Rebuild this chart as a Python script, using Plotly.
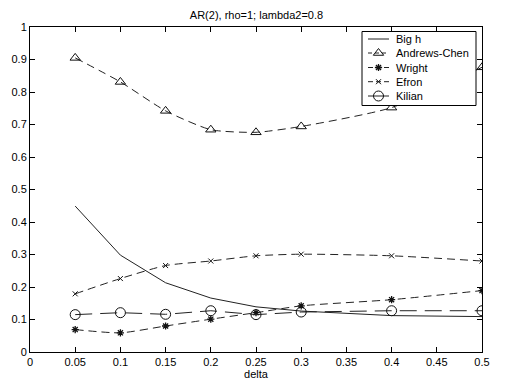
import plotly.graph_objects as go

delta = [0.05, 0.1, 0.15, 0.2, 0.25, 0.3, 0.4, 0.5]
big_h = [0.449, 0.298, 0.213, 0.166, 0.139, 0.126, 0.112, 0.109]
andrews_chen = [0.905, 0.831, 0.742, 0.684, 0.676, 0.694, 0.752, 0.876]
wright = [0.069, 0.059, 0.080, 0.101, 0.121, 0.142, 0.161, 0.189]
efron = [0.179, 0.226, 0.266, 0.280, 0.296, 0.301, 0.296, 0.280]
kilian = [0.115, 0.121, 0.116, 0.127, 0.115, 0.123, 0.127, 0.127]
series_names = ["Big h", "Andrews-Chen", "Wright", "Efron", "Kilian"]

x_ticks = [0, 0.05, 0.1, 0.15, 0.2, 0.25, 0.3, 0.35, 0.4, 0.45, 0.5]
x_tick_text = ["0", "0.05", "0.1", "0.15", "0.2", "0.25", "0.3", "0.35", "0.4", "0.45", "0.5"]
y_ticks = [0, 0.1, 0.2, 0.3, 0.4, 0.5, 0.6, 0.7, 0.8, 0.9, 1]
y_tick_text = ["0", "0.1", "0.2", "0.3", "0.4", "0.5", "0.6", "0.7", "0.8", "0.9", "1"]

FONT = "Liberation Sans, Arial, sans-serif"
INK = "#111"
LINE = "#222"
DASH = "8px,5px"
LONGDASH = "17px,8px"

# the page body has an 8px default margin, so the figure is 8px smaller than the window
W, H = 497, 375

styles = [
    dict(mode="lines", line=dict(color="#222", width=1), marker=None),
    dict(mode="lines+markers", line=dict(color=LINE, width=1, dash=DASH, shape="spline", smoothing=0.6),
         marker=dict(symbol="triangle-up-open", size=9, color=INK, line=dict(width=1))),
    dict(mode="lines+markers", line=dict(color=LINE, width=1, dash=DASH, shape="spline", smoothing=0.6),
         marker=dict(symbol="asterisk-open", size=6, color=INK, line=dict(width=1.3))),
    dict(mode="lines+markers", line=dict(color=LINE, width=1, dash=DASH, shape="spline", smoothing=0.6),
         marker=dict(symbol="x-thin-open", size=5, color=INK, line=dict(width=1))),
    dict(mode="lines+markers", line=dict(color=LINE, width=1, dash=LONGDASH),
         marker=dict(symbol="circle-open", size=10, color=INK, line=dict(width=1))),
]
data = [big_h, andrews_chen, wright, efron, kilian]

fig = go.Figure()
for name, ys, st in zip(series_names, data, styles):
    kw = dict(x=delta, y=ys, name=name, mode=st["mode"], line=st["line"], showlegend=False)
    if st["marker"] is not None:
        kw["marker"] = st["marker"]
    fig.add_trace(go.Scatter(**kw))

# ---- legend box drawn on an overlay axis measured in plot-area pixels ----
PW, PH = 452, 325            # plot-area size in pixels
box_l, box_r, box_t, box_b = 332, 446, 4.5, 78.5
row_y = [12, 26, 40.5, 54.7, 69]
seg_l, seg_r, txt_x = 338, 359, 364

fig.add_trace(go.Scatter(x=[box_l, box_r, box_r, box_l, box_l], y=[box_t, box_t, box_b, box_b, box_t],
                         mode="lines", fill="toself", fillcolor="white",
                         line=dict(color="black", width=1), xaxis="x2", yaxis="y2",
                         showlegend=False, hoverinfo="skip"))
sample_dash = ["solid", "4px,3px", "5px,3px", "5px,3px", "solid"]
for i, st in enumerate(styles):
    ln = dict(color=st["line"]["color"], width=1, dash=sample_dash[i])
    fig.add_trace(go.Scatter(x=[seg_l, seg_r], y=[row_y[i], row_y[i]], mode="lines", line=ln,
                             xaxis="x2", yaxis="y2", showlegend=False, hoverinfo="skip"))
    if st["marker"] is not None:
        fig.add_trace(go.Scatter(x=[(seg_l + seg_r) / 2], y=[row_y[i]], mode="markers",
                                 marker=st["marker"], xaxis="x2", yaxis="y2",
                                 showlegend=False, hoverinfo="skip"))
    fig.add_annotation(x=txt_x, y=row_y[i], xref="x2", yref="y2", text=series_names[i],
                       showarrow=False, xanchor="left", yanchor="middle",
                       font=dict(family=FONT, size=11, color="black"))

axis_common = dict(showline=True, linecolor="black", linewidth=1, mirror="ticks",
                   ticks="inside", ticklen=5, tickcolor="black", showgrid=False, zeroline=False,
                   automargin=False, tickfont=dict(family=FONT, size=11, color="black"))
fig.update_xaxes(range=[0, 0.5], tickvals=x_ticks, ticktext=x_tick_text,
                 title=dict(text="delta", font=dict(family=FONT, size=11, color="black"), standoff=0),
                 **axis_common)
fig.update_yaxes(range=[0, 1], tickvals=y_ticks, ticktext=y_tick_text, **axis_common)

fig.update_layout(
    width=W, height=H,
    margin=dict(l=22, r=23, t=19, b=31),
    paper_bgcolor="white", plot_bgcolor="white",
    font=dict(family=FONT, size=11, color="black"),
    title=dict(text="AR(2), rho=1; lambda2=0.8", x=0.5, xanchor="center", y=1 - 7 / H, yanchor="middle",
               font=dict(family=FONT, size=11, color="black")),
    showlegend=False,
    xaxis2=dict(overlaying="x", range=[0, PW], visible=False, fixedrange=True),
    yaxis2=dict(overlaying="y", range=[PH, 0], visible=False, fixedrange=True),
)

fig.write_html("out.html")
